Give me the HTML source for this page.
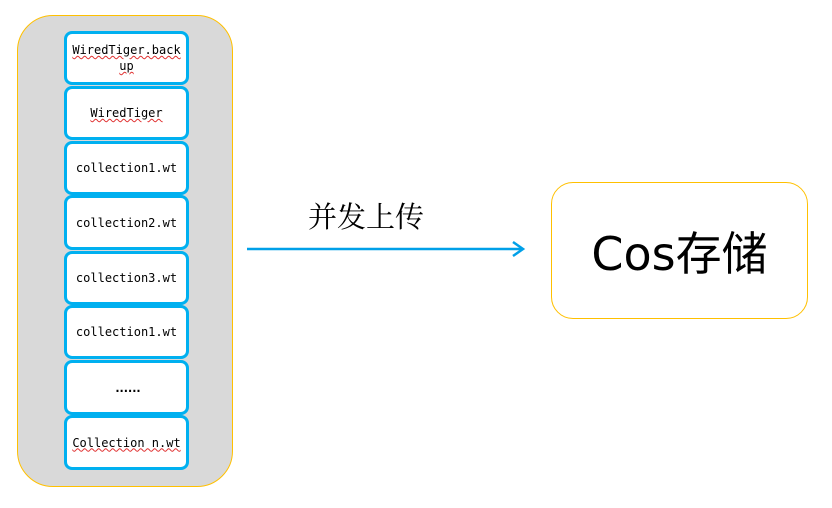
<!DOCTYPE html>
<html><head><style>
body{margin:0;width:832px;height:508px;background:#fff;position:relative;font-family:"Liberation Sans","Noto Sans CJK SC",sans-serif;overflow:hidden}
.outer{position:absolute;left:17px;top:15px;width:214px;height:470px;background:#d9d9d9;border:1px solid #ffc000;border-radius:36px}
.b{position:absolute;left:64px;width:119px;background:#fff;border:3px solid #00b0f0;border-radius:8px;font-family:"DejaVu Sans Mono","Liberation Mono",monospace;font-size:12px;display:flex;align-items:center;justify-content:center;text-align:center;line-height:16px;color:#000}
.u{text-decoration:underline wavy #e03030;text-decoration-thickness:1px}
.cos{position:absolute;left:551px;top:182px;width:255px;height:135px;border:1px solid #ffc000;border-radius:22px;background:#fff;display:flex;align-items:center;justify-content:center;font-size:46px;font-family:"DejaVu Sans","Noto Sans CJK SC",sans-serif}
.lab{position:absolute;left:308px;top:195px;font-size:29px;font-family:"Noto Serif CJK SC","Noto Sans CJK SC",serif}
</style></head><body>
<div class="outer"></div>
<div class="b" style="top:31px;height:48px"><span><span class="u">WiredTiger.back</span><br><span class="u">up</span></span></div>
<div class="b" style="top:86px;height:48px"><span class="u">WiredTiger</span></div>
<div class="b" style="top:141px;height:48px">collection1.wt</div>
<div class="b" style="top:195px;height:49px">collection2.wt</div>
<div class="b" style="top:251px;height:48px">collection3.wt</div>
<div class="b" style="top:305px;height:48px">collection1.wt</div>
<div class="b" style="top:360px;height:49px;font-weight:bold;letter-spacing:-3px">......</div>
<div class="b" style="top:415px;height:49px"><span class="u">Collection n.wt</span></div>
<div class="lab">并发上传</div>
<svg style="position:absolute;left:0;top:0" width="832" height="508">
<line x1="247" y1="249" x2="522" y2="249" stroke="#00a0e8" stroke-width="2.5"/>
<polyline points="513,242 523,249 513,256" fill="none" stroke="#00a0e8" stroke-width="2.5"/>
</svg>
<div class="cos">Cos存储</div>
</body></html>
